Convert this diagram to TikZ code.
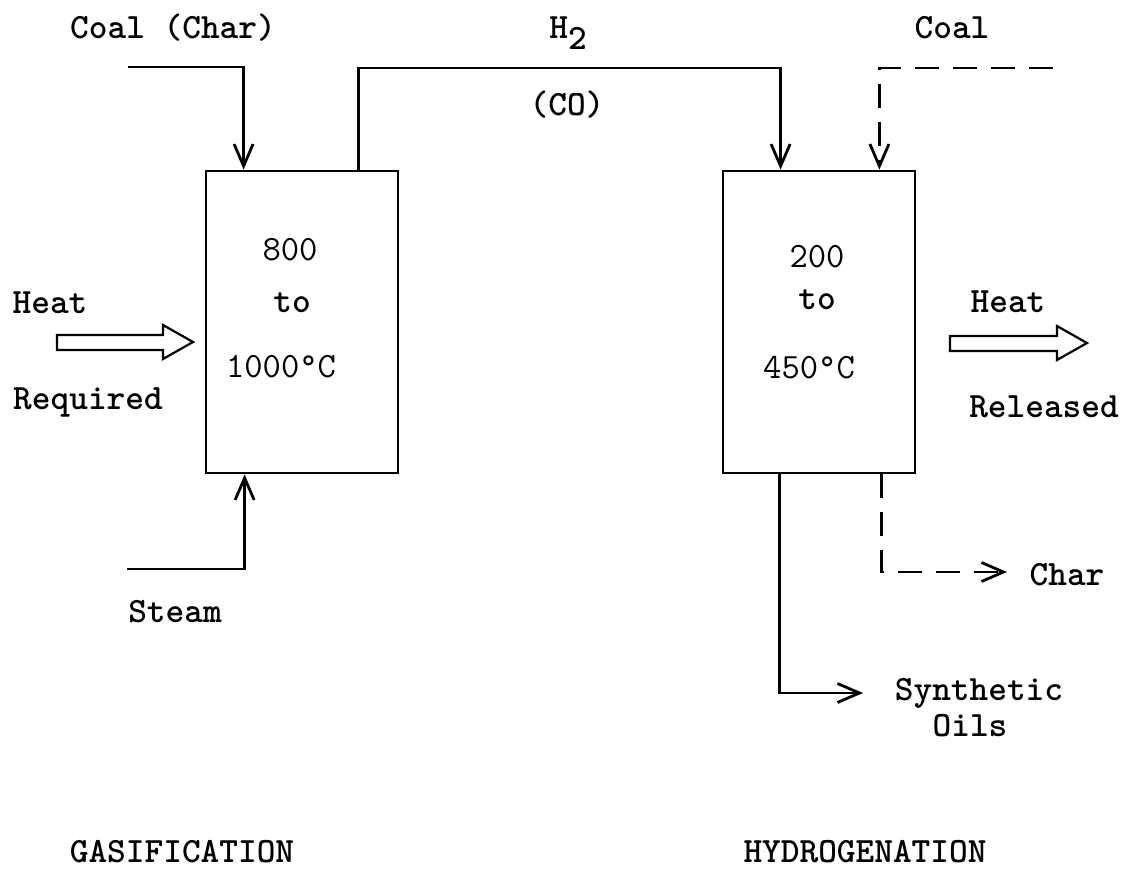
\documentclass[tikz,border=0pt]{standalone}
\usetikzlibrary{arrows.meta}
\begin{document}
\begin{tikzpicture}[x=1pt, y=-1pt, >={Straight Barb[length=22pt,width=19pt]},
    every node/.style={font=\fontsize{35.6pt}{40pt}\selectfont\ttfamily\bfseries, inner sep=0pt},
    reactor/.style={draw, line width=2.8pt, minimum width=192pt, minimum height=302pt},
    flow/.style={->, line width=2.8pt},
    broken/.style={flow, dash pattern=on 24pt off 14pt},
    heatarrow/.style={draw, line width=2.2pt, line join=miter}]
				\useasboundingbox (0,0) rectangle (1130,869);
				\node[reactor] (gasifier) at (302,322) {};
				\node[reactor] (hydro) at (819,322) {};
				\node (t800) at (290,250) {\mdseries 800};
				\node (tto1) at (292,303) {to};
				\node (t1000) at (281,367) {\mdseries 1000\textdegree C};
				\node (t200) at (817,257) {\mdseries 200};
				\node (tto2) at (817,300) {to};
				\node (t450) at (809,368) {\mdseries 450\textdegree C};
				\node (coalchar) at (173,28) {Coal (Char)};
				\node (htwo) at (568,33) {H\raisebox{-0.3em}{2}};
				\node (co) at (567,105) {(CO)};
				\node (coal) at (952,28) {Coal};
				\node (heatin) at (50,303) {Heat};
				\node (required) at (88,402) {Required};
				\node (heatout) at (1008,302) {Heat};
				\node (released) at (1044,407) {Released};
				\node (steam) at (175,612) {Steam};
				\node (char) at (1067,575) {Char};
				\node (synth) at (979,693) {Synthetic};
				\node (oils) at (970,726) {Oils};
				\node (gasif) at (182,852) {GASIFICATION};
				\node (hydrog) at (865,852) {HYDROGENATION};
				\coordinate (coalin) at (128,67);
				\coordinate (gasline) at (570,68);
				\coordinate (coalfeed) at (1053,68);
				\coordinate (steamin) at (127,569);
				\coordinate (oilsout) at (863,693);
				\coordinate (charout) at (1007,572);
				\draw[flow] (coalin) -| ([xshift=39pt]gasifier.north west);
				\draw[flow] ([xshift=-41pt]gasifier.north east) |- (gasline) -| ([xshift=59pt]hydro.north west);
				\draw[broken] (coalfeed) -| ([xshift=-37pt]hydro.north east);
				\draw[flow] (steamin) -| ([xshift=40pt]gasifier.south west);
				\draw[flow] ([xshift=58pt]hydro.south west) |- (oilsout);
				\draw[broken] ([xshift=-35pt]hydro.south east) |- (charout);
				\draw[heatarrow] (57,335) -- (163,335) -- (163,325) -- (193,342) -- (163,359) -- (163,350) -- (57,350) -- cycle;
				\draw[heatarrow] (950,336) -- (1057,336) -- (1057,326) -- (1087,343) -- (1057,360) -- (1057,351) -- (950,351) -- cycle;
\end{tikzpicture}
\end{document}
